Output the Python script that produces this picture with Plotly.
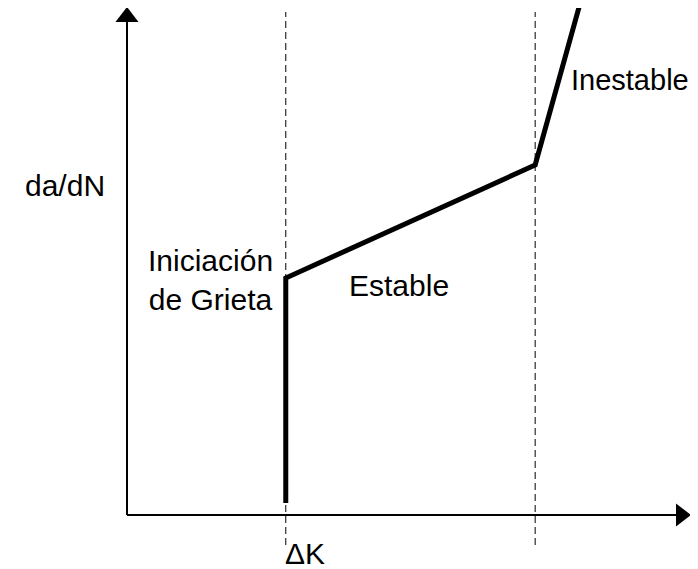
import plotly.graph_objects as go

# Schematic crack-growth curve (arbitrary units)
delta_k = [2.82, 2.82, 7.25, 8.03]
da_dn = [0.24, 4.74, 7.0, 10.16]

# Region boundaries (dashed lines)
boundaries = [2.82, 7.25]
boundary_y = [-0.6, 10.06]

# Axis extents
x_axis_end = 9.84
y_axis_end = 9.96

labels = [
    ("da/dN", -1.10, 6.6, 30),
    ("Iniciación<br>de Grieta", 1.49, 4.7, 30),
    ("Estable", 4.83, 4.6, 30),
    ("Inestable", 8.93, 8.7, 29),
    ("\u0394K", 3.16, -0.77, 30),
]

FONT = "Arial, Liberation Sans, sans-serif"

fig = go.Figure()

# axes lines
fig.add_trace(go.Scatter(x=[0, x_axis_end], y=[0, 0], mode="lines",
                         line=dict(color="black", width=2), hoverinfo="skip"))
fig.add_trace(go.Scatter(x=[0, 0], y=[0, y_axis_end], mode="lines",
                         line=dict(color="black", width=2), hoverinfo="skip"))
# arrow heads
fig.add_trace(go.Scatter(x=[x_axis_end], y=[0], mode="markers",
                         marker=dict(symbol="triangle-right", size=20, color="black",
                                     line=dict(width=0)), hoverinfo="skip"))
fig.add_trace(go.Scatter(x=[0], y=[y_axis_end], mode="markers",
                         marker=dict(symbol="triangle-up", size=20, color="black",
                                     line=dict(width=0)), hoverinfo="skip"))

# dashed boundaries
for b in boundaries:
    fig.add_trace(go.Scatter(x=[b, b], y=boundary_y, mode="lines",
                             line=dict(color="black", width=1, dash="7px,4px"),
                             hoverinfo="skip"))

# curve
fig.add_trace(go.Scatter(x=delta_k, y=da_dn, mode="lines",
                         line=dict(color="black", width=5), hoverinfo="skip"))

for text, x, y, size in labels:
    fig.add_annotation(x=x, y=y, text=text, showarrow=False,
                       font=dict(family=FONT, size=size, color="black"), align="center")

# page offset of 8px (default body margin) is compensated in the ranges
fig.update_layout(
    width=690, height=561,
    margin=dict(l=0, r=0, t=0, b=0),
    paper_bgcolor="white", plot_bgcolor="white",
    showlegend=False,
    xaxis=dict(range=[(8 - 127) / 56.3, (698 - 127) / 56.3], visible=False),
    yaxis=dict(range=[(515 - 569) / 50, (515 - 8) / 50], visible=False),
)

fig.write_html("out.html")
